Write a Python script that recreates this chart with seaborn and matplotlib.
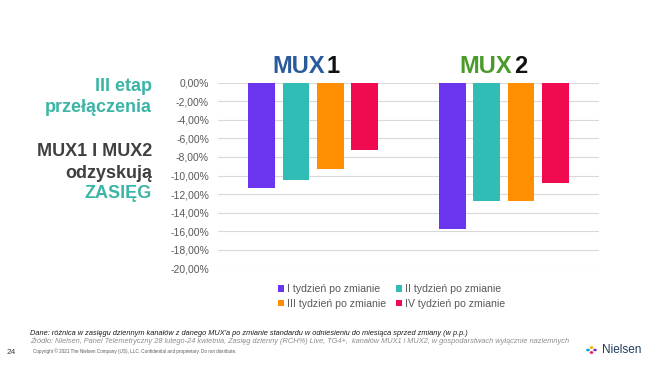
import matplotlib
matplotlib.use("Agg")
import matplotlib.pyplot as plt
import matplotlib.patches as mpatches
from matplotlib.ticker import FuncFormatter
import seaborn as sns
import pandas as pd

sns.set_style("white")
plt.rcParams["font.family"] = ["Liberation Sans", "DejaVu Sans"]

# data
muxes = ["MUX 1", "MUX 2"]
weeks = ["I tydzień po zmianie", "II tydzień po zmianie",
         "III tydzień po zmianie", "IV tydzień po zmianie"]
mux1_values = [-11.4, -10.5, -9.3, -7.3]
mux2_values = [-15.8, -12.7, -12.8, -10.8]
y_ticks = list(range(0, -21, -2))

colors = ["#6b35f0", "#2fbdb6", "#ff8f00", "#f00a50"]

df = pd.DataFrame({
    "mux": [muxes[0]] * 4 + [muxes[1]] * 4,
    "week": weeks + weeks,
    "value": mux1_values + mux2_values,
})

W, H = 655, 366
fig = plt.figure(figsize=(W / 100, H / 100), dpi=100)
ax = fig.add_axes([218 / W, 1 - 268.3 / H, (599 - 218) / W, (268.3 - 82.7) / H])

sns.barplot(data=df, x="mux", y="value", hue="week", order=muxes, hue_order=weeks,
            palette=colors, width=0.72, gap=0.22, saturation=1, ax=ax, legend=True)
for p in ax.patches:
    p.set_linewidth(0)

ax.set_xlim(-0.5, 1.5)
ax.set_ylim(-20, 0)
ax.set_yticks(y_ticks)
ax.yaxis.set_major_formatter(FuncFormatter(lambda v, _: f"{v:.2f}%".replace(".", ",")))
ax.tick_params(axis="y", length=0, pad=6.5, labelsize=7.5, labelcolor="#595959")
ax.set_xticks([])
ax.set_xlabel("")
ax.set_ylabel("")
ax.grid(axis="y", color="#d9d9d9", linewidth=0.8)
ax.set_axisbelow(True)
sns.despine(ax=ax, left=True, bottom=True)

# legend, row-wise order like the original (I, II / III, IV)
handles, labels = ax.get_legend_handles_labels()
ax.get_legend().remove()
idx = [0, 2, 1, 3]
fig.legend([handles[i] for i in idx], [labels[i] for i in idx],
           loc="upper left", bbox_to_anchor=(274 / W, 1 - 280 / H),
           ncols=2, frameon=False, fontsize=7.6, labelcolor="#595959",
           handlelength=0.55, handleheight=0.55, handletextpad=0.3,
           columnspacing=0.9, labelspacing=0.45, borderaxespad=0)

# MUX headers
def header(x_right_of_mux, word_color, digit):
    fig.text(x_right_of_mux / W, 1 - 73 / H, "MUX", ha="right", va="baseline",
             fontsize=17, fontweight="bold", color=word_color)
    fig.text((x_right_of_mux + 2) / W, 1 - 73 / H, digit, ha="left", va="baseline",
             fontsize=17, fontweight="bold", color="#111111")

header(325, "#2a5a9c", "1")
header(512, "#4a9a2c", "2")

# left side text
teal = "#3bb5a6"
grey = "#404040"
left_lines = [("III etap", 91, teal), ("przełączenia", 112.5, teal),
              ("MUX1 I MUX2", 156.5, grey), ("odzyskują", 177.5, grey),
              ("ZASIĘG", 197.5, teal)]
for txt, yb, c in left_lines:
    fig.text(152 / W, 1 - yb / H, txt, ha="right", va="baseline",
             fontsize=13, fontweight="bold", color=c)

# footer
fig.text(30 / W, 1 - 335 / H,
         "Dane: różnica w zasięgu dziennym kanałów z danego MUX'a po zmianie standardu "
         "w odniesieniu do miesiąca sprzed zmiany (w p.p.)",
         ha="left", va="baseline", fontsize=5.35, style="italic", color="#1a1a1a")
fig.text(30 / W, 1 - 343 / H,
         "Źródło: Nielsen, Panel Telemetryczny 28 lutego-24 kwietnia, Zasięg dzienny (RCH%) Live, "
         "TG4+,  kanałów MUX1 i MUX2, w gospodarstwach wyłącznie naziemnych",
         ha="left", va="baseline", fontsize=5.35, style="italic", color="#8c8c8c")
fig.text(7 / W, 1 - 354 / H, "24", ha="left", va="baseline", fontsize=6, color="#404040")
fig.text(33 / W, 1 - 353.5 / H,
         "Copyright © 2021 The Nielsen Company (US), LLC. Confidential and proprietary. Do not distribute.",
         ha="left", va="baseline", fontsize=3.3, color="#595959")

# Nielsen logo
fig.text(641 / W, 1 - 353 / H, "Nielsen", ha="right", va="baseline",
         fontsize=8.5, color="#1f3b5a")
for dx, dy, c in [(0, 0, "#00a0e0"), (3.5, -2.5, "#f7a800"), (3.5, 2.5, "#e0204f"), (7, 0, "#6a3db8")]:
    fig.add_artist(mpatches.Circle(((588 + dx) / W, 1 - (350 + dy) / H), 1.1 / W,
                                   transform=fig.transFigure, color=c))

fig.savefig("out.png", dpi=100)
